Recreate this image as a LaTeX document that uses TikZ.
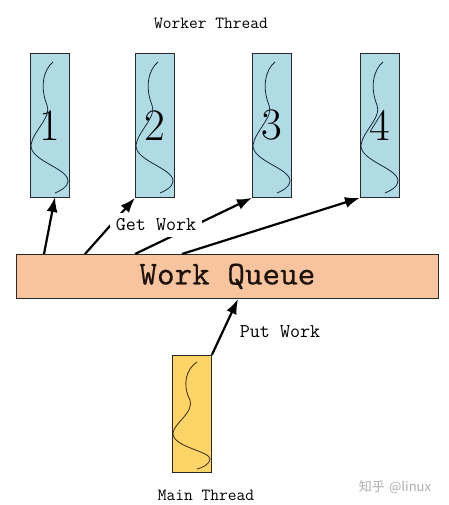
\documentclass[tikz,border=0pt]{standalone}
\usepackage{fontspec}
\newfontfamily\cjkfont{Noto Sans CJK SC}
\newfontfamily\qfont[Extension=.otf, FakeBold=0.4]{lmmono10-regular}
\usetikzlibrary{arrows.meta,calc}
\definecolor{workerblue}{RGB}{176,218,228}
\definecolor{queuepeach}{RGB}{248,196,160}
\definecolor{mainyellow}{RGB}{252,212,104}
\definecolor{edgegray}{RGB}{40,40,40}
\definecolor{wavecol}{RGB}{20,40,60}
\definecolor{mainwave}{RGB}{60,40,10}
\definecolor{wmgray}{RGB}{175,175,175}
\tikzset{
  worker/.style={draw=edgegray, line width=0.8pt, fill=workerblue, minimum width=39pt, minimum height=144pt, inner sep=0pt, anchor=north west, font=\fontsize{45}{45}\selectfont},
  mainbox/.style={draw=edgegray, line width=0.8pt, fill=mainyellow, minimum width=39pt, minimum height=117pt, inner sep=0pt, anchor=north west},
  queuebox/.style={draw=edgegray, line width=0.8pt, fill=queuepeach, minimum width=422pt, minimum height=44pt, inner sep=0pt, anchor=north west, font=\qfont\fontsize{33.5}{34}\selectfont, text=black!85!brown},
  lbl/.style={font=\ttfamily\fontsize{17}{18}\selectfont, inner sep=0pt},
  arlbl/.style={font=\ttfamily\fontsize{19.5}{20}\selectfont, fill=white, inner sep=6pt},
  conn/.style={line width=2.2pt, -{Latex[length=15pt,width=11pt]}},
  wave/.style={line width=0.8pt},
}
\newcommand{\workerwave}[1]{%
  \begin{scope}[shift={(#1.north west)}]
  \draw[wave, draw=wavecol] (23,9) .. controls (13,17) and (10,35) .. (17,52)
     .. controls (22,64) and (3,78) .. (1,92)
     .. controls (0,108) and (38,115) .. (38,128)
     .. controls (38,134) and (30,138) .. (25,140);
  \end{scope}}
\begin{document}
\begin{tikzpicture}[x=1pt,y=-1pt]
\useasboundingbox[fill=white] (0,0) rectangle (448,505);
\node[lbl] (wt) at (211,23) {Worker Thread};
\node[worker] (w1) at (30,53) {1};
\node[worker] (w2) at (135,53) {2};
\node[worker] (w3) at (252,53) {3};
\node[worker] (w4) at (360,53) {4};
\workerwave{w1}
\workerwave{w2}
\workerwave{w3}
\workerwave{w4}
\node[queuebox] (q) at (16,254) {Work Queue};
\node[mainbox] (m) at (172,355) {};
\begin{scope}[shift={(m.north west)}]
\draw[wave, draw=mainwave] (25,7) .. controls (14,14) and (10,30) .. (18,45)
   .. controls (22,58) and (2,68) .. (1,78)
   .. controls (0,92) and (38,96) .. (38,104)
   .. controls (38,109) and (30,113) .. (25,114);
\end{scope}
\coordinate (g1) at (44,254);
\coordinate (g2) at (85,254);
\coordinate (g3) at (135,254);
\coordinate (g4) at (182,254);
\coordinate (t1) at (55,197);
\coordinate (p1) at (238,299);
\draw[conn] (g1) -- (t1);
\draw[conn] (g2) -- (w2.south west);
\draw[conn] (g3) -- (w3.south west);
\draw[conn] (g4) -- (w4.south west);
\draw[conn] (m.north east) -- (p1);
\node[arlbl] (gw) at (156,225) {Get Work};
\node[lbl, font=\ttfamily\fontsize{19.5}{20}\selectfont] (pw) at (280,332) {Put Work};
\node[lbl] (mt) at (206,495) {Main Thread};
\node[inner sep=0pt, text=wmgray, font=\fontsize{13}{14}\selectfont] (wm) at (395,487) {{\cjkfont 知乎} {\cjkfont @linux}};
\end{tikzpicture}
\end{document}
